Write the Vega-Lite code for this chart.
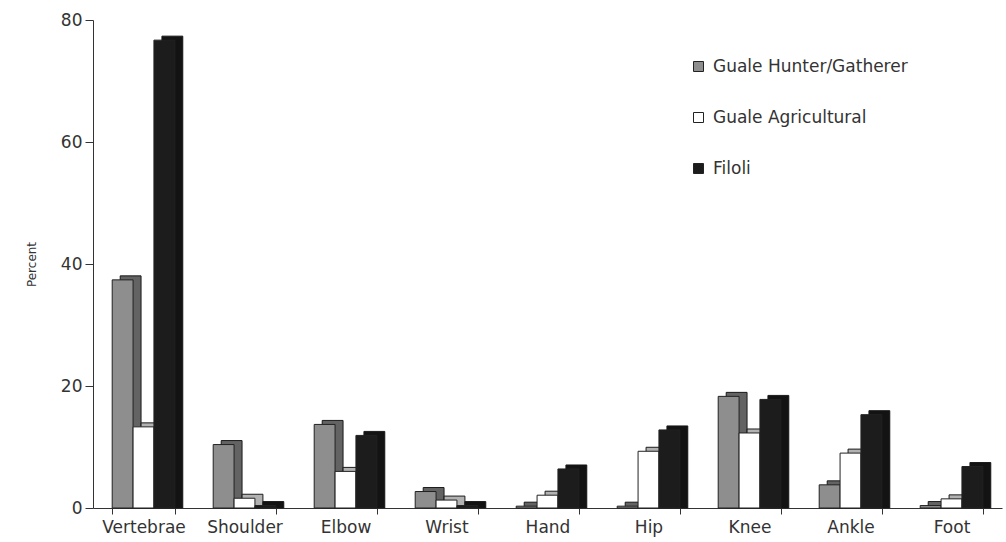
{
  "$schema": "https://vega.github.io/schema/vega-lite/v6.json",
  "width": 909,
  "height": 488,
  "autosize": {"type": "none"},
  "padding": {"left": 93, "top": 20, "right": 4, "bottom": 34},
  "background": "white",
  "config": {
    "view": {"stroke": null},
    "font": "DejaVu Sans",
    "axis": {"labelColor": "#333", "titleColor": "#333", "domainColor": "#333", "tickColor": "#333", "grid": false, "labelFont": "DejaVu Sans", "titleFont": "DejaVu Sans"},
    "legend": {"labelFont": "DejaVu Sans"}
  },
  "data": {
    "values": [
      {"joint": "Vertebrae", "group": "Guale Hunter/Gatherer", "pct": 37.4},
      {"joint": "Vertebrae", "group": "Guale Agricultural", "pct": 13.3},
      {"joint": "Vertebrae", "group": "Filoli", "pct": 76.7},
      {"joint": "Shoulder", "group": "Guale Hunter/Gatherer", "pct": 10.4},
      {"joint": "Shoulder", "group": "Guale Agricultural", "pct": 1.6},
      {"joint": "Shoulder", "group": "Filoli", "pct": 0.4},
      {"joint": "Elbow", "group": "Guale Hunter/Gatherer", "pct": 13.7},
      {"joint": "Elbow", "group": "Guale Agricultural", "pct": 6.0},
      {"joint": "Elbow", "group": "Filoli", "pct": 11.9},
      {"joint": "Wrist", "group": "Guale Hunter/Gatherer", "pct": 2.7},
      {"joint": "Wrist", "group": "Guale Agricultural", "pct": 1.3},
      {"joint": "Wrist", "group": "Filoli", "pct": 0.4},
      {"joint": "Hand", "group": "Guale Hunter/Gatherer", "pct": 0.3},
      {"joint": "Hand", "group": "Guale Agricultural", "pct": 2.1},
      {"joint": "Hand", "group": "Filoli", "pct": 6.4},
      {"joint": "Hip", "group": "Guale Hunter/Gatherer", "pct": 0.3},
      {"joint": "Hip", "group": "Guale Agricultural", "pct": 9.3},
      {"joint": "Hip", "group": "Filoli", "pct": 12.8},
      {"joint": "Knee", "group": "Guale Hunter/Gatherer", "pct": 18.3},
      {"joint": "Knee", "group": "Guale Agricultural", "pct": 12.3},
      {"joint": "Knee", "group": "Filoli", "pct": 17.8},
      {"joint": "Ankle", "group": "Guale Hunter/Gatherer", "pct": 3.8},
      {"joint": "Ankle", "group": "Guale Agricultural", "pct": 9.0},
      {"joint": "Ankle", "group": "Filoli", "pct": 15.3},
      {"joint": "Foot", "group": "Guale Hunter/Gatherer", "pct": 0.4},
      {"joint": "Foot", "group": "Guale Agricultural", "pct": 1.5},
      {"joint": "Foot", "group": "Filoli", "pct": 6.8}
    ]
  },
  "encoding": {
    "x": {
      "field": "joint", "type": "nominal", "sort": null,
      "scale": {"paddingInner": 0.38, "paddingOuter": 0.19},
      "axis": {"title": null, "labelAngle": 0, "labelFontSize": 17, "labelPadding": 5, "tickBand": "extent", "tickSize": 6, "domainColor": "#333"}
    },
    "y": {
      "field": "pct", "type": "quantitative",
      "scale": {"domain": [0, 80], "nice": false},
      "axis": {"title": "Percent", "values": [0, 20, 40, 60, 80], "labelFontSize": 17, "titleFontSize": 12, "titleFontWeight": "normal", "titlePadding": 22, "tickSize": 8, "labelPadding": 3}
    },
    "color": {
      "field": "group", "type": "nominal",
      "scale": {"domain": ["Guale Hunter/Gatherer", "Guale Agricultural", "Filoli"], "range": ["#8e8e8e", "#ffffff", "#1c1c1c"]},
      "legend": {
        "title": null, "orient": "none", "legendX": 597, "legendY": 38,
        "symbolType": "square", "symbolSize": 100, "symbolStrokeColor": "#222", "symbolStrokeWidth": 1,
        "labelFontSize": 17, "labelColor": "#333", "rowPadding": 33, "labelOffset": 6, "labelLimit": 400
      }
    }
  },
  "layer": [
    {
      "mark": {"type": "bar", "yOffset": -4, "y2Offset": 0, "stroke": "#222", "strokeWidth": 1},
      "encoding": {
        "y2": {"datum": 0},
        "xOffset": {"field": "group", "type": "nominal", "sort": ["Guale Hunter/Gatherer", "Guale Agricultural", "Filoli"], "scale": {"range": [8, 70.6]}}
      }
    },
    {
      "mark": {"type": "bar", "yOffset": -4, "y2Offset": 0, "fill": "black", "fillOpacity": 0.3, "strokeWidth": 0},
      "encoding": {
        "y2": {"datum": 0},
        "xOffset": {"field": "group", "type": "nominal", "sort": ["Guale Hunter/Gatherer", "Guale Agricultural", "Filoli"], "scale": {"range": [8, 70.6]}},
        "color": null
      }
    },
    {
      "mark": {"type": "bar", "stroke": "#222", "strokeWidth": 1},
      "encoding": {
        "xOffset": {"field": "group", "type": "nominal", "sort": ["Guale Hunter/Gatherer", "Guale Agricultural", "Filoli"]}
      }
    }
  ],
  "resolve": {"scale": {"xOffset": "independent"}}
}
